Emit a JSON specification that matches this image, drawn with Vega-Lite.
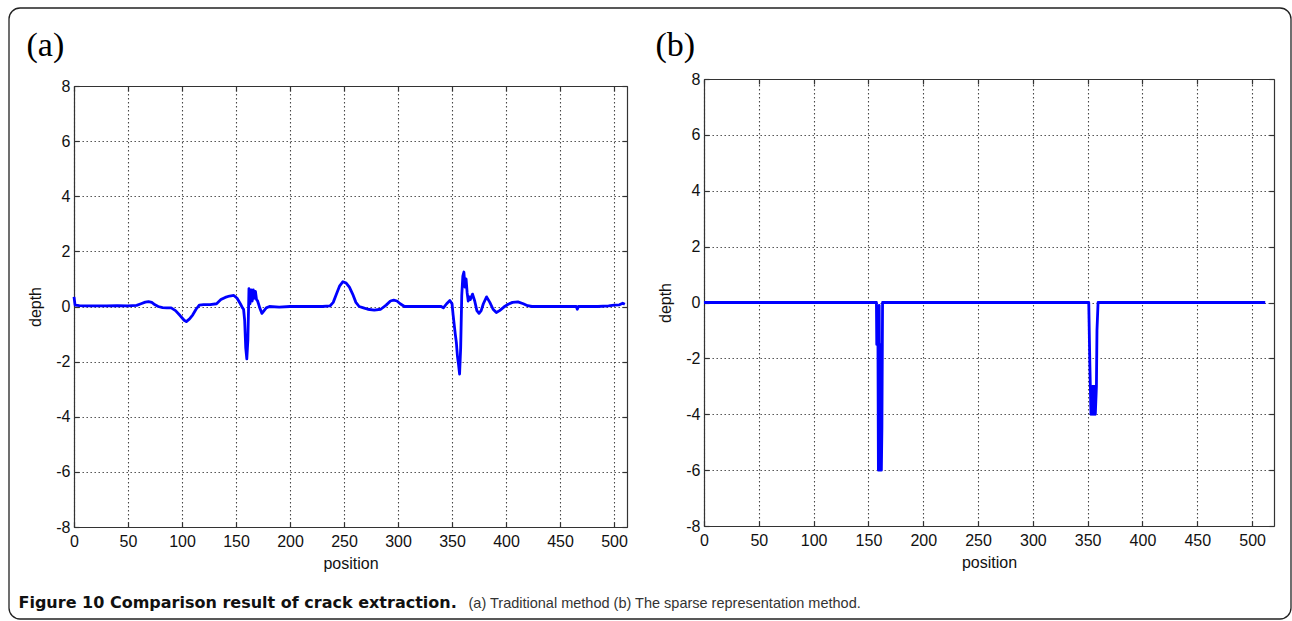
{
  "$schema": "https://vega.github.io/schema/vega-lite/v6.json",
  "width": 1282,
  "height": 611,
  "autosize": {"type": "none"},
  "padding": {"left": 9, "top": 8, "right": 1, "bottom": 2},
  "background": "white",
  "config": {
    "view": {"stroke": null},
    "axis": {
      "labelFont": "Liberation Sans", "labelFontSize": 16, "labelColor": "#111",
      "titleFont": "Liberation Sans", "titleFontSize": 16, "titleFontWeight": "normal", "titleColor": "#111", "titlePadding": 6,
      "domainColor": "#333", "domainWidth": 1.2, "tickColor": "#333", "tickWidth": 1.2, "tickSize": -5,
      "gridColor": "#333", "gridDash": [1.4, 2.6], "gridWidth": 1.1, "gridOpacity": 0.9,
      "labelFlush": false, "labelOverlap": false, "labelBound": false
    }
  },
  "datasets": {
    "a": [
      {"pos": 0, "depth": 0.35}, {"pos": 1, "depth": 0.05}, {"pos": 5, "depth": 0.03}, {"pos": 10, "depth": 0.02},
      {"pos": 20, "depth": 0.02}, {"pos": 30, "depth": 0.02}, {"pos": 40, "depth": 0.03}, {"pos": 50, "depth": 0.02},
      {"pos": 58, "depth": 0.04}, {"pos": 62, "depth": 0.1}, {"pos": 66, "depth": 0.16}, {"pos": 69, "depth": 0.18},
      {"pos": 72, "depth": 0.15}, {"pos": 75, "depth": 0.06}, {"pos": 78, "depth": 0.0}, {"pos": 82, "depth": -0.04},
      {"pos": 86, "depth": -0.05}, {"pos": 90, "depth": -0.05}, {"pos": 94, "depth": -0.15}, {"pos": 98, "depth": -0.32},
      {"pos": 102, "depth": -0.5}, {"pos": 104, "depth": -0.55}, {"pos": 107, "depth": -0.45}, {"pos": 110, "depth": -0.3},
      {"pos": 113, "depth": -0.1}, {"pos": 116, "depth": 0.05}, {"pos": 120, "depth": 0.07}, {"pos": 126, "depth": 0.07},
      {"pos": 132, "depth": 0.1}, {"pos": 136, "depth": 0.25}, {"pos": 140, "depth": 0.33}, {"pos": 144, "depth": 0.38},
      {"pos": 148, "depth": 0.4}, {"pos": 151, "depth": 0.3}, {"pos": 154, "depth": 0.1}, {"pos": 156, "depth": -0.05},
      {"pos": 157, "depth": -0.1}, {"pos": 158, "depth": -0.5}, {"pos": 159, "depth": -1.5}, {"pos": 160, "depth": -1.9},
      {"pos": 161, "depth": -1.2}, {"pos": 162, "depth": 0.65}, {"pos": 163, "depth": 0.1}, {"pos": 164, "depth": 0.6},
      {"pos": 165, "depth": 0.2}, {"pos": 166, "depth": 0.6}, {"pos": 167, "depth": 0.3}, {"pos": 168, "depth": 0.55},
      {"pos": 169, "depth": 0.25}, {"pos": 170, "depth": 0.2}, {"pos": 172, "depth": -0.05}, {"pos": 174, "depth": -0.25},
      {"pos": 176, "depth": -0.15}, {"pos": 178, "depth": -0.05}, {"pos": 181, "depth": 0.0}, {"pos": 190, "depth": -0.02},
      {"pos": 200, "depth": 0.0}, {"pos": 210, "depth": 0.0}, {"pos": 220, "depth": 0.0}, {"pos": 230, "depth": 0.0},
      {"pos": 237, "depth": 0.02}, {"pos": 240, "depth": 0.15}, {"pos": 243, "depth": 0.45}, {"pos": 246, "depth": 0.75},
      {"pos": 249, "depth": 0.9}, {"pos": 252, "depth": 0.85}, {"pos": 255, "depth": 0.7}, {"pos": 258, "depth": 0.45},
      {"pos": 261, "depth": 0.15}, {"pos": 264, "depth": 0.0}, {"pos": 268, "depth": -0.05}, {"pos": 272, "depth": -0.1},
      {"pos": 278, "depth": -0.13}, {"pos": 284, "depth": -0.1}, {"pos": 289, "depth": 0.05}, {"pos": 293, "depth": 0.2},
      {"pos": 296, "depth": 0.23}, {"pos": 299, "depth": 0.2}, {"pos": 302, "depth": 0.1}, {"pos": 306, "depth": 0.0},
      {"pos": 315, "depth": 0.0}, {"pos": 325, "depth": 0.0}, {"pos": 335, "depth": 0.0}, {"pos": 340, "depth": 0.0},
      {"pos": 342, "depth": -0.05}, {"pos": 345, "depth": 0.1}, {"pos": 348, "depth": 0.22}, {"pos": 350, "depth": 0.1},
      {"pos": 351, "depth": -0.3}, {"pos": 353, "depth": -1.0}, {"pos": 354, "depth": -1.3}, {"pos": 355, "depth": -1.8},
      {"pos": 356, "depth": -2.1}, {"pos": 357, "depth": -2.45}, {"pos": 358, "depth": -1.5}, {"pos": 359, "depth": 0.4},
      {"pos": 360, "depth": 1.1}, {"pos": 361, "depth": 1.25}, {"pos": 362, "depth": 0.7}, {"pos": 363, "depth": 1.0},
      {"pos": 364, "depth": 0.5}, {"pos": 365, "depth": 0.2}, {"pos": 366, "depth": 0.35}, {"pos": 367, "depth": 0.25},
      {"pos": 369, "depth": 0.45}, {"pos": 371, "depth": 0.2}, {"pos": 373, "depth": -0.15}, {"pos": 375, "depth": -0.25},
      {"pos": 377, "depth": -0.15}, {"pos": 379, "depth": 0.1}, {"pos": 382, "depth": 0.35}, {"pos": 385, "depth": 0.15},
      {"pos": 388, "depth": -0.1}, {"pos": 391, "depth": -0.22}, {"pos": 394, "depth": -0.15}, {"pos": 398, "depth": -0.02},
      {"pos": 402, "depth": 0.08}, {"pos": 406, "depth": 0.15}, {"pos": 411, "depth": 0.17}, {"pos": 416, "depth": 0.1},
      {"pos": 420, "depth": 0.03}, {"pos": 424, "depth": 0.0}, {"pos": 435, "depth": 0.0}, {"pos": 445, "depth": 0.0},
      {"pos": 455, "depth": 0.0}, {"pos": 465, "depth": 0.0}, {"pos": 466, "depth": -0.1}, {"pos": 467, "depth": 0.0},
      {"pos": 475, "depth": 0.0}, {"pos": 485, "depth": 0.0}, {"pos": 495, "depth": 0.02}, {"pos": 500, "depth": 0.05},
      {"pos": 505, "depth": 0.06}, {"pos": 508, "depth": 0.12}, {"pos": 510, "depth": 0.08}
    ],
    "b": [
      {"pos": 0, "depth": 0}, {"pos": 157.3, "depth": 0}, {"pos": 157.6, "depth": -1.5}, {"pos": 158.2, "depth": -0.2},
      {"pos": 158.7, "depth": -1.5}, {"pos": 159.1, "depth": -6}, {"pos": 159.8, "depth": -0.1}, {"pos": 160.5, "depth": -6},
      {"pos": 161.2, "depth": -1.5}, {"pos": 161.8, "depth": -6}, {"pos": 162.3, "depth": -4.5}, {"pos": 162.9, "depth": 0},
      {"pos": 351, "depth": 0}, {"pos": 352, "depth": -2.2}, {"pos": 353, "depth": -4}, {"pos": 353.5, "depth": -3},
      {"pos": 354, "depth": -4}, {"pos": 354.5, "depth": -3}, {"pos": 355, "depth": -4}, {"pos": 355.5, "depth": -3},
      {"pos": 356, "depth": -4}, {"pos": 356.5, "depth": -3}, {"pos": 357, "depth": -4}, {"pos": 358, "depth": -3},
      {"pos": 358.5, "depth": -1}, {"pos": 359.5, "depth": 0}, {"pos": 512, "depth": 0}
    ]
  },
  "layer": [
    {
      "data": {"values": [{}]},
      "mark": {"type": "rect", "filled": false, "color": "#222", "stroke": "#222", "strokeWidth": 1.3, "cornerRadius": 11},
      "encoding": {}
    },
    {
      "data": {"name": "a"},
      "layer": [
        {
          "mark": {"type": "line", "color": "#0000ff", "strokeWidth": 2.8, "strokeJoin": "round"},
          "encoding": {
            "x": {"field": "pos", "type": "quantitative",
              "scale": {"domain": [0, 512], "range": [65, 618], "nice": false, "zero": false},
              "axis": {"orient": "bottom", "offset": -92, "values": [0, 50, 100, 150, 200, 250, 300, 350, 400, 450, 500], "grid": false, "title": "position", "labelPadding": 11}},
            "y": {"field": "depth", "type": "quantitative",
              "scale": {"domain": [-8, 8], "range": [519, 78], "nice": false, "zero": false},
              "axis": {"orient": "left", "offset": -65, "values": [-8, -6, -4, -2, 0, 2, 4, 6, 8], "grid": true, "title": "depth", "titlePadding": 12, "labelExpr": "datum.value + ''", "labelPadding": 9}}
          }
        },
        {
          "mark": {"type": "line", "strokeOpacity": 0},
          "encoding": {
            "x": {"field": "pos", "type": "quantitative",
              "scale": {"domain": [0, 512], "range": [65, 618], "nice": false, "zero": false},
              "axis": {"orient": "top", "offset": -78, "values": [0, 50, 100, 150, 200, 250, 300, 350, 400, 450, 500], "grid": true, "labels": false,
                "title": "(a)", "titleX": 17, "titleY": -31, "titleFont": "Liberation Serif", "titleFontSize": 34, "titleAngle": 0, "titleAlign": "left", "titleBaseline": "alphabetic", "titleColor": "#000"}},
            "y": {"field": "depth", "type": "quantitative",
              "scale": {"domain": [-8, 8], "range": [519, 78], "nice": false, "zero": false},
              "axis": {"orient": "right", "offset": -664, "values": [-8, -6, -4, -2, 0, 2, 4, 6, 8], "grid": false, "labels": false,
                "title": "Figure 10 Comparison result of crack extraction.", "titleX": -609, "titleY": 599, "titleAngle": 0, "titleAlign": "left", "titleBaseline": "alphabetic",
                "titleFont": "DejaVu Sans", "titleFontSize": 16, "titleFontWeight": "bold", "titleColor": "#111"}}
          }
        }
      ],
      "resolve": {"axis": {"x": "independent", "y": "independent"}}
    },
    {
      "data": {"name": "b"},
      "layer": [
        {
          "mark": {"type": "line", "color": "#0000ff", "strokeWidth": 2.8, "strokeJoin": "round"},
          "encoding": {
            "x": {"field": "pos", "type": "quantitative",
              "scale": {"domain": [0, 520], "range": [695, 1265], "nice": false, "zero": false},
              "axis": {"orient": "bottom", "offset": -93, "values": [0, 50, 100, 150, 200, 250, 300, 350, 400, 450, 500], "grid": false, "title": "position", "labelPadding": 11}},
            "y": {"field": "depth", "type": "quantitative",
              "scale": {"domain": [-8, 8], "range": [518, 71], "nice": false, "zero": false},
              "axis": {"orient": "left", "offset": -695, "values": [-8, -6, -4, -2, 0, 2, 4, 6, 8], "grid": true, "title": "depth", "titlePadding": 12, "labelExpr": "datum.value + ''", "labelPadding": 9}}
          }
        },
        {
          "mark": {"type": "line", "strokeOpacity": 0},
          "encoding": {
            "x": {"field": "pos", "type": "quantitative",
              "scale": {"domain": [0, 520], "range": [695, 1265], "nice": false, "zero": false},
              "axis": {"orient": "top", "offset": -71, "values": [0, 50, 100, 150, 200, 250, 300, 350, 400, 450, 500], "grid": true, "labels": false,
                "title": "(b)", "titleX": 646, "titleY": -24, "titleFont": "Liberation Serif", "titleFontSize": 34, "titleAngle": 0, "titleAlign": "left", "titleBaseline": "alphabetic", "titleColor": "#000"}},
            "y": {"field": "depth", "type": "quantitative",
              "scale": {"domain": [-8, 8], "range": [518, 71], "nice": false, "zero": false},
              "axis": {"orient": "right", "offset": -17, "values": [-8, -6, -4, -2, 0, 2, 4, 6, 8], "grid": false, "labels": false,
                "title": "(a) Traditional method (b) The sparse representation method.", "titleX": -806, "titleY": 599, "titleAngle": 0, "titleAlign": "left", "titleBaseline": "alphabetic",
                "titleFont": "Liberation Sans", "titleFontSize": 14.5, "titleFontWeight": "normal", "titleColor": "#333"}}
          }
        }
      ],
      "resolve": {"axis": {"x": "independent", "y": "independent"}}
    }
  ],
  "resolve": {"scale": {"x": "independent", "y": "independent"}, "axis": {"x": "independent", "y": "independent"}}
}
